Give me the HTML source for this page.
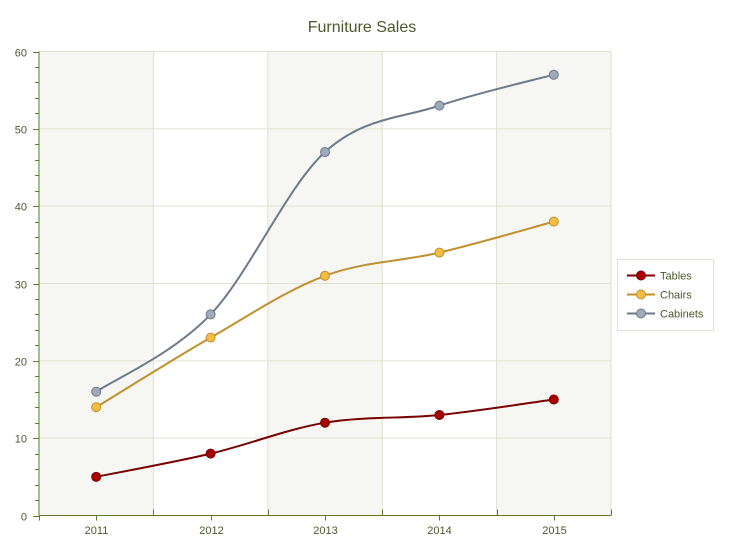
<!DOCTYPE html>
<html><head><meta charset="utf-8"><style>
body{margin:0;background:#fff;}
svg text{font-family:"Liberation Sans",sans-serif;}
</style></head><body>
<svg id="c" width="730" height="555" xmlns="http://www.w3.org/2000/svg">
<text x="362" y="32" text-anchor="middle" font-size="16" fill="#4b5a2e">Furniture Sales</text>
<g id="bg"></g>
<g id="ax"></g>
<g id="ser"></g>
<rect x="617.5" y="259.5" width="96" height="71" fill="#fff" stroke="#e0e2d0"/>
<line x1="627" y1="275.5" x2="655" y2="275.5" stroke="#7a0000" stroke-width="2"/><circle cx="641" cy="275.5" r="4.5" fill="#a80000" stroke="#7a0000"/>
<text x="660" y="279.5" font-size="11" fill="#4b5a2e">Tables</text>
<line x1="627" y1="294.5" x2="655" y2="294.5" stroke="#c09030" stroke-width="2"/><circle cx="641" cy="294.5" r="4.5" fill="#f3bd45" stroke="#c09030"/>
<text x="660" y="298.5" font-size="11" fill="#4b5a2e">Chairs</text>
<line x1="627" y1="313.5" x2="655" y2="313.5" stroke="#6c7a8a" stroke-width="2"/><circle cx="641" cy="313.5" r="4.5" fill="#9eabba" stroke="#6c7a8a"/>
<text x="660" y="317.5" font-size="11" fill="#4b5a2e">Cabinets</text>
</svg>
<script>
var NS="http://www.w3.org/2000/svg";
function el(p,t,a,txt){var e=document.createElementNS(NS,t);for(var k in a)e.setAttribute(k,a[k]);if(txt!=null)e.textContent=txt;document.getElementById(p).appendChild(e);return e;}
var L=39,R=611,T=51.5,B=515.5,bw=(R-L)/5;
function Y(v){return B-(B-T)*v/60;}
for(var i=0;i<5;i++){if(i%2==0)el("bg","rect",{x:L+i*bw,y:T,width:bw,height:B-T,fill:"#f6f6f3"});}
for(var v=10;v<=60;v+=10)el("bg","line",{x1:L,x2:R,y1:Y(v),y2:Y(v),stroke:"#e0e2d0"});
for(var i=1;i<=5;i++)el("bg","line",{x1:L+i*bw,x2:L+i*bw,y1:T,y2:B,stroke:"#e0e2d0"});
el("ax","line",{x1:L,x2:L,y1:T,y2:B,stroke:"#5e7a2a"});
el("ax","line",{x1:L,x2:R,y1:B,y2:B,stroke:"#5e7a2a"});
for(var v=0;v<=60;v+=2){var y=Math.round(Y(v))+0.5;el("ax","line",{x1:v%10==0?33:35,x2:L,y1:y,y2:y,stroke:"#5e7a2a"});
if(v%10==0)el("ax","text",{x:27,y:y+4,"text-anchor":"end","font-size":"11",fill:"#4b5a2e"},v);}
var yrs=[2011,2012,2013,2014,2015];
for(var i=0;i<=5;i++){var x=Math.round(L+i*bw)+0.5;el("ax","line",{x1:x,x2:x,y1:i==0?B:B-6,y2:i==0?B+5:B,stroke:"#5e7a2a"});}
for(var i=0;i<5;i++){var x=Math.round(L+(i+0.5)*bw)+0.5;el("ax","line",{x1:x,x2:x,y1:B,y2:B+5,stroke:"#5e7a2a"});
el("ax","text",{x:x,y:534,"text-anchor":"middle","font-size":"11",fill:"#4b5a2e"},yrs[i]);}
var S=[[[5,8,12,13,15],"#7a0000","#a80000"],[[14,23,31,34,38],"#c09030","#f3bd45"],[[16,26,47,53,57],"#6c7a8a","#9eabba"]];
S.forEach(function(s){var p=s[0].map(function(v,i){return [L+(i+0.5)*bw,Y(v)];});
var d="M"+p[0];
for(var i=0;i<4;i++){var p0=p[Math.max(i-1,0)],p1=p[i],p2=p[i+1],p3=p[Math.min(i+2,4)];
var c1=[p1[0]+(p2[0]-p0[0])/6,p1[1]+(p2[1]-p0[1])/6],c2=[p2[0]-(p3[0]-p1[0])/6,p2[1]-(p3[1]-p1[1])/6];
d+=" C"+c1+" "+c2+" "+p2;}
el("ser","path",{d:d,fill:"none",stroke:s[1],"stroke-width":2});
p.forEach(function(q){el("ser","circle",{cx:q[0],cy:q[1],r:4.5,fill:s[2],stroke:s[1]});});});
</script>
</body></html>
